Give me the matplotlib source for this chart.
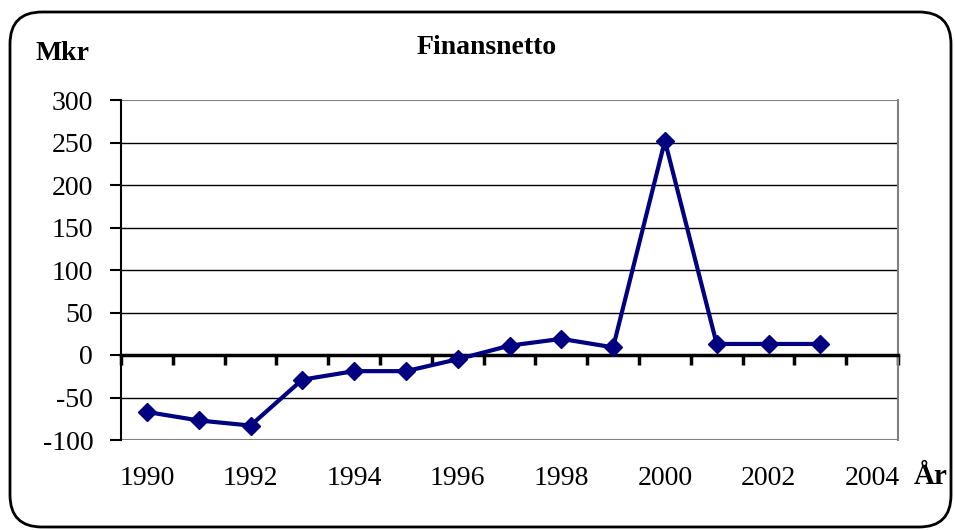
import matplotlib.pyplot as plt
from matplotlib.patches import FancyBboxPatch
from matplotlib.transforms import IdentityTransform

years = [1990, 1991, 1992, 1993, 1994, 1995, 1996, 1997, 1998, 1999, 2000, 2001, 2002, 2003]
finansnetto = [-67, -77, -83, -29, -19, -19, -5, 11, 19, 9, 252, 13, 13, 13]
label_years = [1990, 1992, 1994, 1996, 1998, 2000, 2002, 2004]
yticks = [-100, -50, 0, 50, 100, 150, 200, 250, 300]

plt.rcParams['font.family'] = ['Liberation Serif', 'DejaVu Serif']

fig = plt.figure(figsize=(9.55, 5.3), dpi=100)
ax = fig.add_axes([121 / 955, 1 - 440 / 530, 777 / 955, 340 / 530])

# rounded frame around the whole chart
frame = FancyBboxPatch((10, 3), 941, 515, boxstyle="round,pad=0,rounding_size=32",
                       transform=IdentityTransform(), facecolor='white',
                       edgecolor='black', linewidth=2, zorder=-10)
fig.patches.append(frame)

ax.plot(years, finansnetto, color='#000080', linewidth=3, marker='D',
        markersize=9.5, zorder=5, clip_on=False)

ax.set_xlim(1989.5, 2004.5)
ax.set_ylim(-100, 300)

# gridlines
for v in yticks[1:-1]:
    if v != 0:
        ax.axhline(v, color='black', linewidth=1, zorder=1)
ax.axhline(300, color='#808080', linewidth=1.5, zorder=1)
ax.axhline(-100, color='#808080', linewidth=1.5, zorder=1)

ax.spines['top'].set_visible(False)
ax.spines['right'].set_color('#808080')
ax.spines['right'].set_linewidth(1.5)
ax.spines['left'].set_linewidth(1.5)
ax.spines['bottom'].set_position(('data', 0))
ax.spines['bottom'].set_linewidth(2.5)
ax.spines['bottom'].set_zorder(3)

ax.set_yticks(yticks)
ax.set_yticklabels([str(v) for v in yticks], fontsize=20)
ax.tick_params(axis='y', direction='out', length=8, width=1.5, pad=12)

ax.set_xticks([y + 0.5 for y in range(1989, 2005)])
ax.set_xticklabels([])
ax.tick_params(axis='x', direction='out', length=7, width=2.5)

for y in label_years:
    ax.text(y, -0.112, str(y), transform=ax.get_xaxis_transform(),
            ha='center', va='center', fontsize=20)

fig.text(487 / 955, 1 - 47 / 530, 'Finansnetto', ha='center', va='center',
         fontsize=20, fontweight='bold')
fig.text(62 / 955, 1 - 53 / 530, 'Mkr', ha='center', va='center',
         fontsize=20, fontweight='bold')
fig.text(931 / 955, 1 - 477 / 530, 'År', ha='center', va='center',
         fontsize=21, fontweight='bold')

fig.savefig('out.png', dpi=100)
